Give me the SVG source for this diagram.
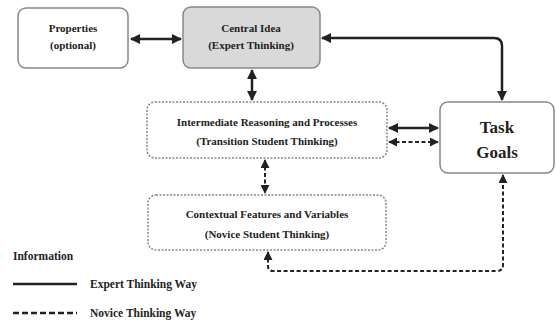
<svg xmlns="http://www.w3.org/2000/svg" width="556" height="329" viewBox="0 0 556 329">
<defs>
<marker id="ah" viewBox="0 0 10 10" refX="9" refY="5" markerWidth="4" markerHeight="4" orient="auto-start-reverse" markerUnits="strokeWidth">
<path d="M0,0 L10,5 L0,10 z" fill="#222"/>
</marker>
<marker id="ahd" viewBox="0 0 10 10" refX="9" refY="5" markerWidth="4.5" markerHeight="4.5" orient="auto-start-reverse" markerUnits="strokeWidth">
<path d="M0,0 L10,5 L0,10 z" fill="#222"/>
</marker>
</defs>
<rect width="556" height="329" fill="#fff"/>
<g id="properties">
<rect fill="#fff" stroke="#888" stroke-width="1.5" x="18" y="8" width="110" height="60" rx="8"/>
<text font-family="Liberation Serif, serif" font-weight="bold" font-size="11" fill="#222" text-anchor="middle" x="73" y="32">Properties</text>
<text font-family="Liberation Serif, serif" font-weight="bold" font-size="11" fill="#222" text-anchor="middle" x="73" y="49">(optional)</text>
</g>
<g id="central">
<rect fill="#d9d9d9" stroke="#888" stroke-width="1.5" x="183" y="7" width="137" height="61" rx="8"/>
<text font-family="Liberation Serif, serif" font-weight="bold" font-size="11" fill="#222" text-anchor="middle" x="251" y="32">Central Idea</text>
<text font-family="Liberation Serif, serif" font-weight="bold" font-size="11" fill="#222" text-anchor="middle" x="251" y="49">(Expert Thinking)</text>
</g>
<g id="intermediate">
<rect fill="#fff" stroke="#888" stroke-width="1.5" stroke-dasharray="2 1.5" x="147" y="102" width="240" height="56" rx="8"/>
<text font-family="Liberation Serif, serif" font-weight="bold" font-size="11" fill="#222" text-anchor="middle" x="267" y="126">Intermediate Reasoning and Processes</text>
<text font-family="Liberation Serif, serif" font-weight="bold" font-size="11" fill="#222" text-anchor="middle" x="267" y="145">(Transition Student Thinking)</text>
</g>
<g id="contextual">
<rect fill="#fff" stroke="#888" stroke-width="1.5" stroke-dasharray="2 1.5" x="148" y="195" width="238" height="55" rx="8"/>
<text font-family="Liberation Serif, serif" font-weight="bold" font-size="11" fill="#222" text-anchor="middle" x="267" y="218">Contextual Features and Variables</text>
<text font-family="Liberation Serif, serif" font-weight="bold" font-size="11" fill="#222" text-anchor="middle" x="267" y="238">(Novice Student Thinking)</text>
</g>
<g id="task">
<rect fill="#fff" stroke="#888" stroke-width="1.5" x="440" y="102" width="114" height="71" rx="8"/>
<text font-family="Liberation Serif, serif" font-weight="bold" font-size="17" fill="#222" text-anchor="middle" x="497" y="133">Task</text>
<text font-family="Liberation Serif, serif" font-weight="bold" font-size="17" fill="#222" text-anchor="middle" x="497" y="158">Goals</text>
</g>
<g id="legend">
<text font-family="Liberation Serif, serif" font-weight="bold" font-size="11.5" fill="#222" x="13" y="260">Information</text>
<line x1="13" y1="284" x2="77" y2="284" stroke="#222" stroke-width="2.5"/>
<text font-family="Liberation Serif, serif" font-weight="bold" font-size="11.5" fill="#222" x="90" y="288">Expert Thinking Way</text>
<line x1="13" y1="313" x2="77" y2="313" stroke="#222" stroke-width="2.5" stroke-dasharray="6 3"/>
<text font-family="Liberation Serif, serif" font-weight="bold" font-size="11.5" fill="#222" x="90" y="317">Novice Thinking Way</text>
</g>
<g id="connectors" fill="none" stroke="#222">
<path stroke-width="2.5" marker-start="url(#ah)" marker-end="url(#ah)" d="M131 39 H181"/>
<path stroke-width="2.5" marker-start="url(#ah)" marker-end="url(#ah)" d="M322 38 H494 Q502 38 502 46 V100"/>
<path stroke-width="2.5" marker-start="url(#ah)" marker-end="url(#ah)" d="M252 70 V100"/>
<path stroke-width="2.5" marker-start="url(#ah)" marker-end="url(#ah)" d="M389 128 H438"/>
<path stroke-width="2" stroke-dasharray="4 2.5" marker-start="url(#ahd)" marker-end="url(#ahd)" d="M389 142 H438"/>
<path stroke-width="2" stroke-dasharray="4 2.5" marker-start="url(#ahd)" marker-end="url(#ahd)" d="M265 160 V193"/>
<path stroke-width="2" stroke-dasharray="4 2.5" marker-start="url(#ahd)" marker-end="url(#ahd)" d="M268 252 V266 Q268 271 273 271 H497 Q503 271 503 265 V175"/>
</g>
</svg>
